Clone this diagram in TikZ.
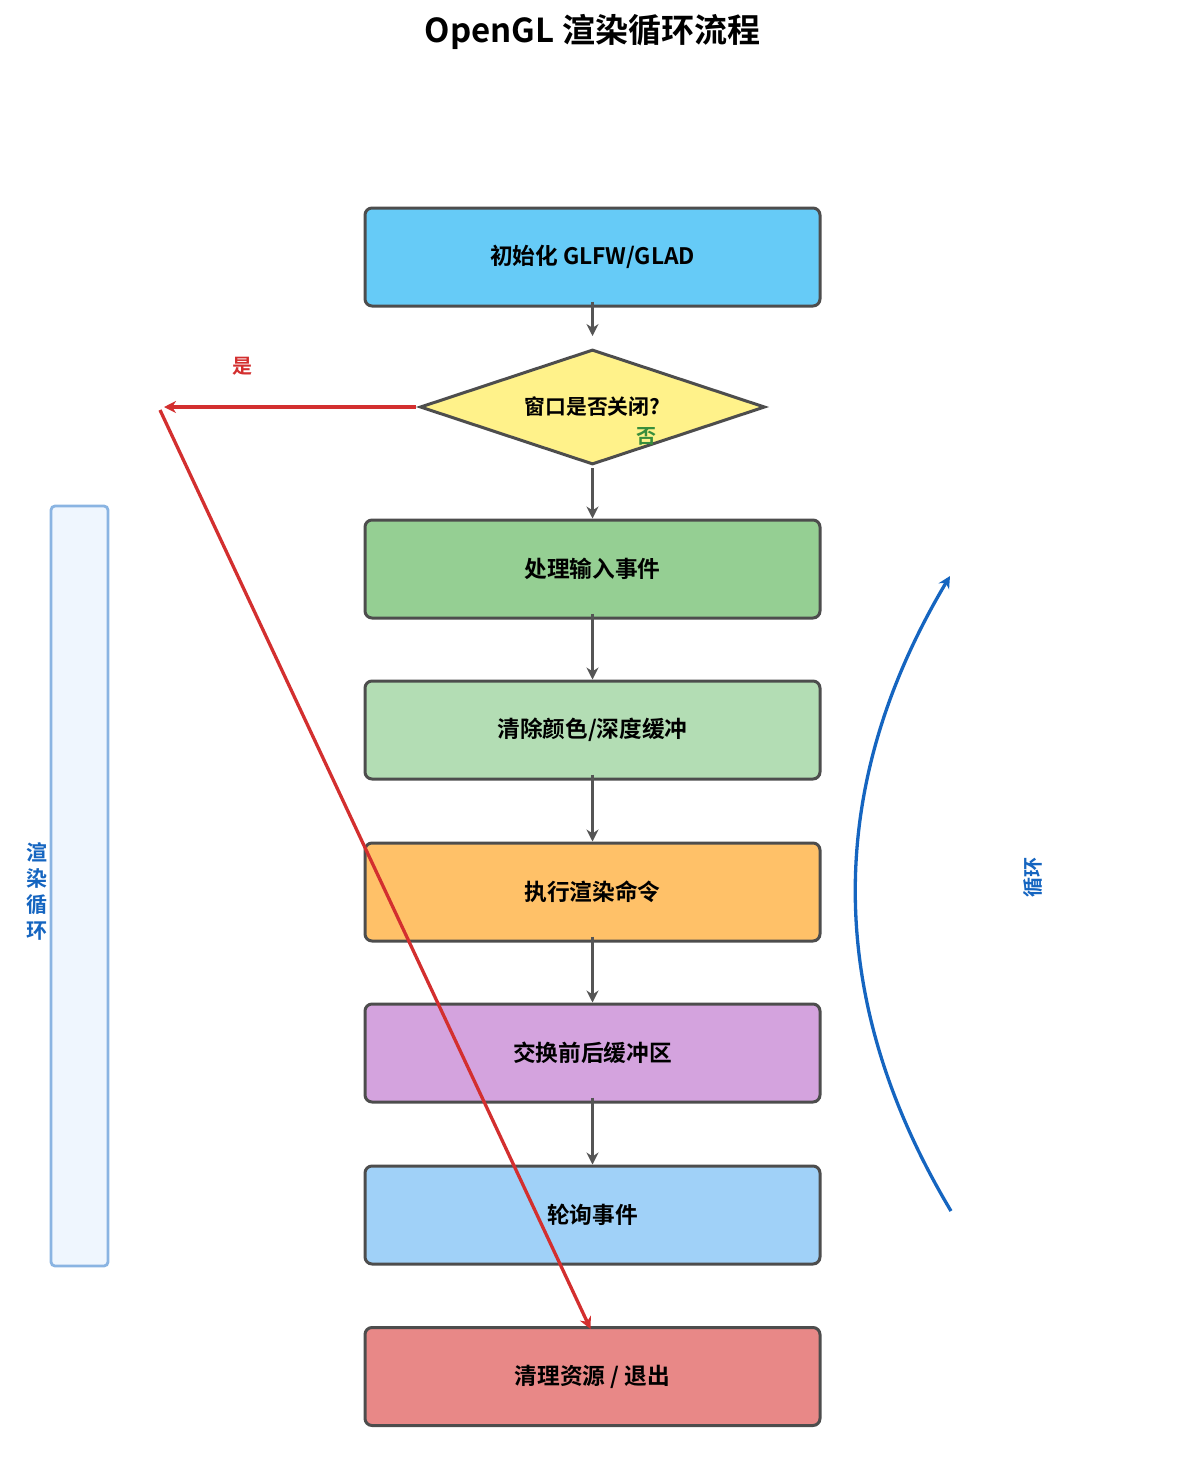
\documentclass[tikz,border=0pt]{standalone}
\usepackage{fontspec}
\setmainfont{Noto Sans CJK SC}[BoldFont={Noto Sans CJK SC Bold}]
\usetikzlibrary{shapes.geometric,arrows.meta}
\definecolor{bordergray}{HTML}{4D4D4D}
\definecolor{arrowgray}{HTML}{555555}
\definecolor{cA}{HTML}{66CBF7}
\definecolor{cD}{HTML}{FFF28A}
\definecolor{cB}{HTML}{95CF93}
\definecolor{cC}{HTML}{B3DDB4}
\definecolor{cE}{HTML}{FFC168}
\definecolor{cF}{HTML}{D4A3DE}
\definecolor{cG}{HTML}{A0D1F8}
\definecolor{cH}{HTML}{E88887}
\definecolor{redline}{HTML}{D32F2F}
\definecolor{greentext}{HTML}{388E3C}
\definecolor{bluetext}{HTML}{1565C0}
\definecolor{loopfill}{HTML}{EFF6FE}
\definecolor{loopborder}{HTML}{8AB4E2}
\tikzset{
  stepbox/.style={draw=bordergray, line width=3pt, rounded corners=7pt,
    minimum width=455pt, minimum height=98pt, inner sep=0pt,
    font=\fontsize{22.7}{27}\selectfont\bfseries},
  decbox/.style={diamond, shape aspect=3, draw=bordergray, line width=3pt, fill=cD,
    minimum width=345pt, minimum height=115pt, inner sep=0pt,
    font=\fontsize{20.8}{25}\selectfont\bfseries},
  flow/.style={draw=arrowgray, line width=3.3pt, -{Stealth[length=12pt,width=12pt]}},
  redarrow/.style={draw=redline, line width=3.3pt},
}
\begin{document}
\begin{tikzpicture}[x=1pt,y=-1pt]
\useasboundingbox (0,0) rectangle (1185,1484);
\node[font=\fontsize{33}{38}\selectfont\bfseries] (title) at (592.5,32) {OpenGL 渲染循环流程};

\node[draw=loopborder, fill=loopfill, line width=2.8pt, rounded corners=4pt,
  minimum width=57pt, minimum height=760pt, inner sep=0pt] (loopbg) at (79.5,886) {};
\node[text=bluetext, font=\fontsize{21}{26}\selectfont\bfseries, align=center] (looplabel) at (37,891) {渲\\染\\循\\环};

\node[stepbox, fill=cA] (b0) at (592.5,257) {初始化 GLFW/GLAD};
\node[decbox] (d) at (592.5,407) {窗口是否关闭?};
\node[stepbox, fill=cB] (b1) at (592.5,569) {处理输入事件};
\node[stepbox, fill=cC] (b2) at (592.5,730) {清除颜色/深度缓冲};
\node[stepbox, fill=cE] (b3) at (592.5,892) {执行渲染命令};
\node[stepbox, fill=cF] (b4) at (592.5,1053) {交换前后缓冲区};
\node[stepbox, fill=cG] (b5) at (592.5,1215) {轮询事件};
\node[stepbox, fill=cH] (b6) at (592.5,1376.5) {清理资源 / 退出};

\draw[flow] ([yshift=6pt]b0.south) -- ([yshift=12pt]d.north);
\draw[flow] ([yshift=-2pt]d.south) -- (b1.north);
\draw[flow] ([yshift=6pt]b1.south) -- (b2.north);
\draw[flow] ([yshift=6pt]b2.south) -- (b3.north);
\draw[flow] ([yshift=6pt]b3.south) -- (b4.north);
\draw[flow] ([yshift=6pt]b4.south) -- (b5.north);

\coordinate (yesend) at (164,407);
\coordinate (yesturn) at (160,410);
\draw[redarrow, -{Stealth[length=12pt,width=12pt]}] ([xshift=-3pt]d.west) -- (yesend);
\draw[redarrow, -{Stealth[length=12pt,width=12pt]}] (yesturn) -- ([xshift=-2pt,yshift=-3pt]b6.north);
\node[text=redline, font=\fontsize{20}{24}\selectfont\bfseries] (yeslabel) at (242,366) {是};
\node[text=greentext, font=\fontsize{20}{24}\selectfont\bfseries] (nolabel) at (646,436) {否};

\coordinate (loopstart) at (951,1211);
\coordinate (loopend) at (950,576);
\draw[draw=bluetext, line width=3.3pt, -{Stealth[length=12pt,width=12pt]}]
  (loopstart) .. controls (824.3,999) and (824,787.3) .. (loopend);
\node[text=bluetext, rotate=90, font=\fontsize{20}{24}\selectfont\bfseries] (cyclelabel) at (1033,877) {循环};
\end{tikzpicture}
\end{document}
